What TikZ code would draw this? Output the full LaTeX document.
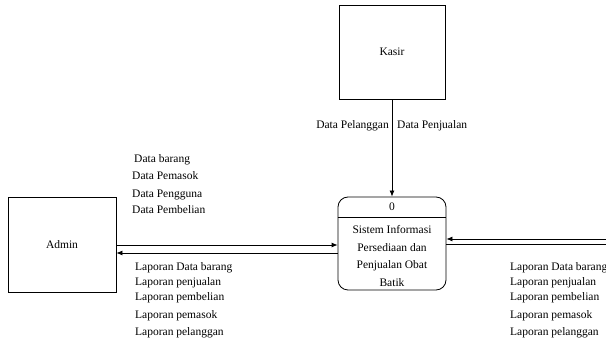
\documentclass[tikz,border=0pt]{standalone}
\usepackage{fontspec}
\setmainfont{Liberation Serif}
\usetikzlibrary{arrows.meta}
\begin{document}
\begin{tikzpicture}[x=1pt,y=-1pt,
  every node/.style={font=\fontsize{11.5}{13}\selectfont},
  ent/.style={draw, line width=0.8pt, inner sep=0pt},
  lbl/.style={anchor=west, inner sep=0pt},
  flow/.style={line width=0.8pt, -{Latex[length=6pt,width=5pt]}},
  plain/.style={line width=0.8pt}]
\useasboundingbox (0,0) rectangle (606,347);
\node[ent, minimum width=106pt, minimum height=94pt] (kasir) at (392,52) {Kasir};
\node[ent, minimum width=108pt, minimum height=95pt] (admin) at (62,244.5) {Admin};
\node[ent, rounded corners=10pt, minimum width=108pt, minimum height=93pt] (proc) at (392,243.5) {};
\draw[line width=0.8pt] (proc.west |- 0,217) -- (proc.east |- 0,217);
\node (pid) at (392,207) {0};
\node[align=center, font=\fontsize{11.5}{17.5}\selectfont] (ptext) at (392,256) {Sistem Informasi\\Persediaan dan\\Penjualan Obat\\Batik};
% Kasir flow
\draw[flow] (kasir.south) -- (proc.north);
\node[anchor=east, inner sep=0pt] (l1) at (389,126) {Data Pelanggan};
\node[anchor=west, inner sep=0pt] (l2) at (397,126) {Data Penjualan};
% Admin flows
\draw[flow] (admin.east |- 0,245) -- (proc.west |- 0,245);
\draw[flow] (proc.west |- 0,253) -- (admin.east |- 0,253);
\node[lbl] (a1) at (134,160) {Data barang};
\node[lbl] (a2) at (132,176) {Data Pemasok};
\node[lbl] (a3) at (132,195) {Data Pengguna};
\node[lbl] (a4) at (132,210) {Data Pembelian};
\node[lbl] (b1) at (135,268) {Laporan Data barang};
\node[lbl] (b2) at (135,283) {Laporan penjualan};
\node[lbl] (b3) at (135,298) {Laporan pembelian};
\node[lbl] (b4) at (135,316) {Laporan pemasok};
\node[lbl] (b5) at (135,333) {Laporan pelanggan};
% Right flows
\coordinate (r1) at (606,239);
\coordinate (r2) at (606,244);
\draw[flow] (r1) -- (proc.east |- r1);
\draw[plain] (proc.east |- r2) -- (r2);
\node[lbl] (c1) at (510,268) {Laporan Data barang};
\node[lbl] (c2) at (510,283) {Laporan penjualan};
\node[lbl] (c3) at (510,298) {Laporan pembelian};
\node[lbl] (c4) at (510,316) {Laporan pemasok};
\node[lbl] (c5) at (510,333) {Laporan pelanggan};
\end{tikzpicture}
\end{document}
